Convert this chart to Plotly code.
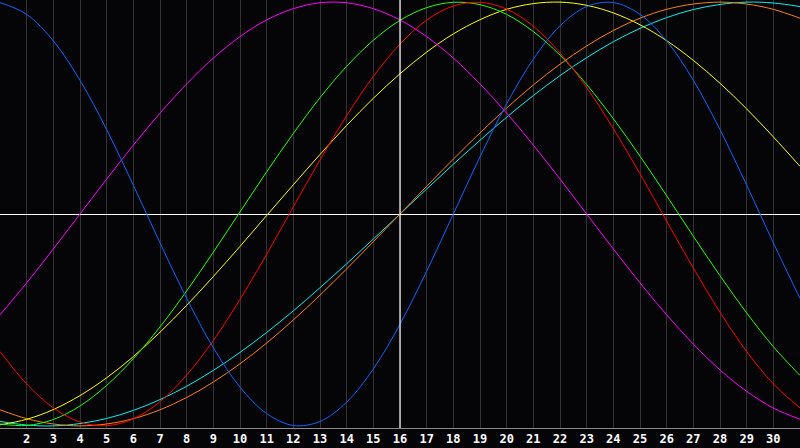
import plotly.graph_objects as go

days = list(range(1, 32))
tick_vals = list(range(2, 31))
tick_text = [str(d) for d in tick_vals]

blue = [0.998, 0.942, 0.817, 0.631, 0.398, 0.136, -0.136, -0.398, -0.631, -0.817,
        -0.942, -0.998, -0.979, -0.888, -0.731, -0.520, -0.270, 0.000, 0.270, 0.520,
        0.731, 0.888, 0.979, 0.998, 0.942, 0.817, 0.631, 0.398, 0.136, -0.136, -0.398]
magenta = [-0.476, -0.325, -0.165, 0.000, 0.165, 0.325, 0.476, 0.614, 0.736, 0.837,
           0.916, 0.969, 0.997, 0.997, 0.969, 0.916, 0.837, 0.736, 0.614, 0.476,
           0.325, 0.165, 0.000, -0.165, -0.325, -0.476, -0.614, -0.736, -0.837, -0.916, -0.969]
green = [-0.991, -0.998, -0.970, -0.906, -0.809, -0.683, -0.533, -0.363, -0.180, 0.010,
         0.199, 0.380, 0.549, 0.697, 0.820, 0.914, 0.974, 0.999, 0.988, 0.942,
         0.861, 0.750, 0.611, 0.450, 0.273, 0.086, -0.105, -0.291, -0.467, -0.626, -0.762]
red = [-0.649, -0.802, -0.915, -0.982, -0.999, -0.967, -0.886, -0.760, -0.597, -0.403,
       -0.190, 0.034, 0.255, 0.464, 0.649, 0.802, 0.915, 0.982, 0.999, 0.967,
       0.886, 0.760, 0.597, 0.403, 0.190, -0.034, -0.255, -0.464, -0.649, -0.802, -0.915]
yellow = [-0.995, -0.969, -0.923, -0.857, -0.773, -0.673, -0.558, -0.431, -0.295, -0.153,
          -0.007, 0.138, 0.281, 0.418, 0.546, 0.662, 0.764, 0.850, 0.917, 0.966,
          0.993, 1.000, 0.985, 0.949, 0.893, 0.818, 0.725, 0.617, 0.496, 0.364, 0.225]
orange = [-0.924, -0.966, -0.991, -1.000, -0.991, -0.966, -0.924, -0.866, -0.793, -0.707,
          -0.609, -0.500, -0.383, -0.259, -0.131, 0.000, 0.131, 0.259, 0.383, 0.500,
          0.609, 0.707, 0.793, 0.866, 0.924, 0.966, 0.991, 1.000, 0.991, 0.966, 0.924]
cyan = [-0.979, -0.996, -1.000, -0.989, -0.965, -0.927, -0.876, -0.813, -0.738, -0.653,
        -0.559, -0.457, -0.348, -0.235, -0.118, 0.000, 0.118, 0.235, 0.348, 0.457,
        0.559, 0.653, 0.738, 0.813, 0.876, 0.927, 0.965, 0.989, 1.000, 0.996, 0.979]

series = [
    ("cyan", cyan, "#00f0f0"),
    ("orange", orange, "#ff7f10"),
    ("yellow", yellow, "#ffff00"),
    ("green", green, "#22ff00"),
    ("red", red, "#ff0000"),
    ("magenta", magenta, "#ff00ff"),
    ("blue", blue, "#0a66ff"),
]

bg = "#050508"
fig = go.Figure()
for name, vals, col in series:
    fig.add_trace(go.Scatter(x=days, y=vals, mode="lines", name=name,
                             line=dict(color=col, width=1, shape="spline", smoothing=1.0),
                             hoverinfo="skip"))

fig.add_shape(type="line", x0=16, x1=16, y0=0, y1=1, xref="x", yref="paper",
              line=dict(color="#ffffff", width=1.2), layer="above")

fig.update_layout(
    width=800, height=448,
    margin=dict(l=0, r=0, t=0, b=20),
    paper_bgcolor=bg, plot_bgcolor=bg,
    showlegend=False,
    xaxis=dict(range=[1, 31], tickvals=tick_vals, ticktext=tick_text,
               showgrid=True, gridcolor="#333333", gridwidth=1,
               zeroline=False, showline=True, linecolor="#8a8a8a", linewidth=1, mirror=True,
               ticks="", tickfont=dict(family="DejaVu Sans Mono", size=12, color="#ffffff", weight="bold")),
    yaxis=dict(range=[-1.01, 1.01], showgrid=False, showticklabels=False,
               zeroline=True, zerolinecolor="#ffffff", zerolinewidth=1.2,
               showline=True, linecolor="#8a8a8a", linewidth=1, mirror=True, ticks=""),
)

fig.write_html("out.html", config={"displayModeBar": False},
               post_script="document.body.style.margin='0';document.body.style.background='" + bg + "';")
